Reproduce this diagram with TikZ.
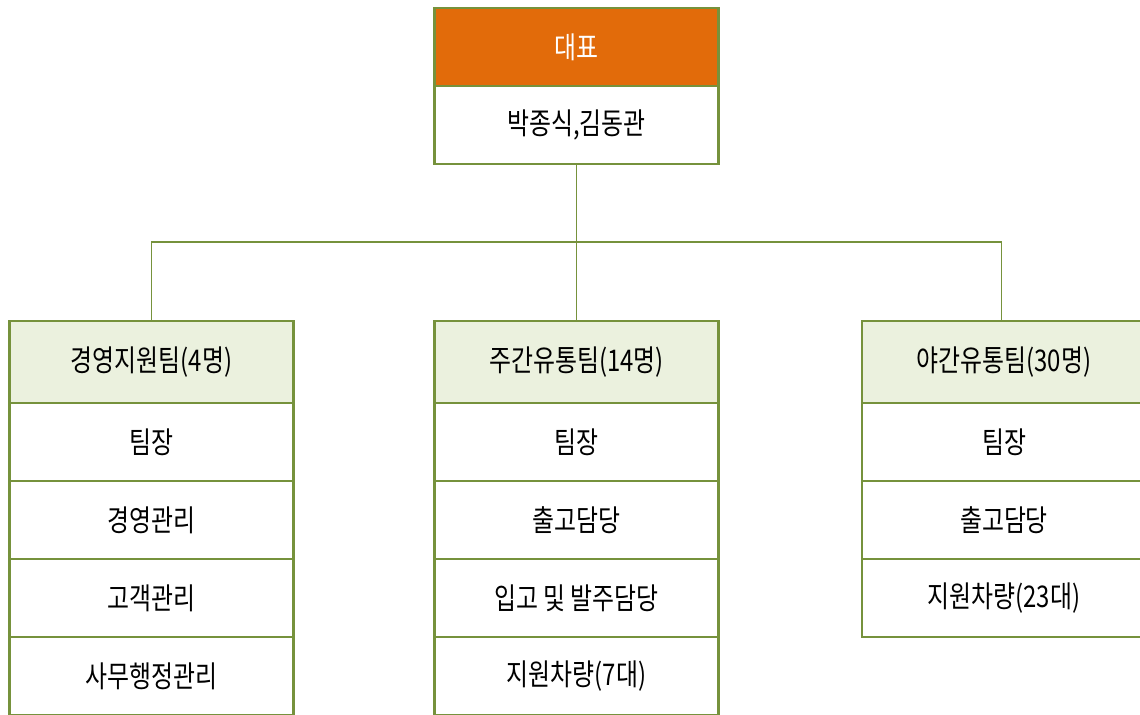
\documentclass[tikz,border=0pt]{standalone}
\usepackage{fontspec}
\setmainfont[FakeStretch=0.8]{Noto Sans CJK KR}
\usetikzlibrary{positioning}

\definecolor{olive}{HTML}{76923C}
\definecolor{bossorange}{HTML}{E26B0A}
\definecolor{teamfill}{HTML}{EBF1DE}

\tikzset{
    box/.style={rectangle,draw=olive,line width=1.3pt,minimum width=5.68cm,minimum height=1.56cm,inner sep=0pt,outer sep=0pt,font=\fontsize{17}{19}\selectfont},
    bosshead/.style={box,fill=bossorange,text=white},
    teamhead/.style={box,fill=teamfill,minimum height=1.64cm},
    conn/.style={draw=olive,line width=1.1pt}
}

\begin{document}
\begin{tikzpicture}
    \useasboundingbox (0,0) rectangle (22.8,-14.3);
    \clip (0,0) rectangle (22.8,-14.3);

        % top
        \node[bosshead,anchor=north] (boss) at (11.53,-0.16) {대표};
        \node[box,below=0pt of boss] (bossname) {박종식,김동관};

        % teams
        \node[teamhead,anchor=north] (t1) at (3.03,-6.42) {경영지원팀(4명)};
        \node[box,below=0pt of t1] (t1a) {팀장};
        \node[box,below=0pt of t1a] (t1b) {경영관리};
        \node[box,below=0pt of t1b] (t1c) {고객관리};
        \node[box,below=0pt of t1c] (t1d) {사무행정관리};

        \node[teamhead,anchor=north] (t2) at (11.53,-6.42) {주간유통팀(14명)};
        \node[box,below=0pt of t2] (t2a) {팀장};
        \node[box,below=0pt of t2a] (t2b) {출고담당};
        \node[box,below=0pt of t2b] (t2c) {입고 및 발주담당};
        \node[box,below=0pt of t2c] (t2d) {지원차량(7대)};

        \node[teamhead,anchor=north] (t3) at (20.08,-6.42) {야간유통팀(30명)};
        \node[box,below=0pt of t3] (t3a) {팀장};
        \node[box,below=0pt of t3a] (t3b) {출고담당};
        \node[box,below=0pt of t3b] (t3c) {지원차량(23대)};

        % lines
        \coordinate (bus) at (11.53,-4.84);
        \coordinate (drop3) at (20.03,-6.42);
        \path[conn] (bossname.south) -- (t2.north);
        \path[conn] (t1.north) |- (bus) -| (drop3);

\end{tikzpicture}
\end{document}
